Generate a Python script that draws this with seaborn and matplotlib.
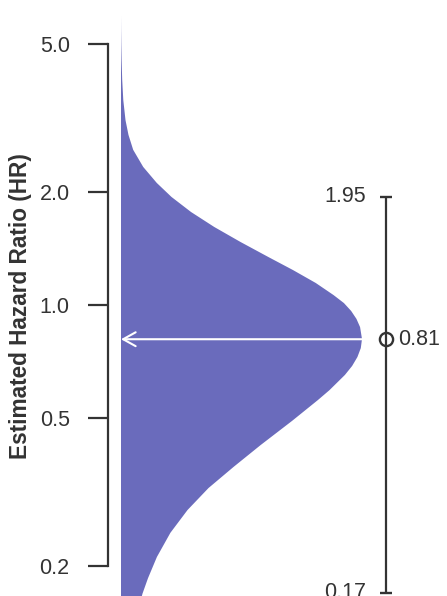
import matplotlib
matplotlib.use("Agg")
import matplotlib.pyplot as plt
from matplotlib.ticker import NullLocator
import seaborn as sns
import numpy as np

# ---- data ----
hr_grid = [5.96, 5.44, 4.96, 4.52, 4.00, 3.53, 3.12, 2.85, 2.60, 2.34, 2.12,
           1.945, 1.773, 1.617, 1.474, 1.344, 1.240, 1.145, 1.063, 1.012,
           0.964, 0.918, 0.873, 0.811, 0.767, 0.726, 0.687, 0.650, 0.592,
           0.557, 0.490, 0.422, 0.369, 0.324, 0.283, 0.246, 0.212, 0.186,
           0.169, 0.140]
density = [0.0, 0.0004, 0.0012, 0.0025, 0.005, 0.0095, 0.0187, 0.031, 0.0505,
           0.0921, 0.1485, 0.2095, 0.2905, 0.3867, 0.4959, 0.6112, 0.7137,
           0.8083, 0.882, 0.925, 0.955, 0.977, 0.992, 1.0, 0.995, 0.981,
           0.959, 0.929, 0.865, 0.817, 0.710, 0.579, 0.467, 0.363, 0.276,
           0.205, 0.149, 0.112, 0.089, 0.056]
hr_estimate = 0.81
ci_lower = 0.17
ci_upper = 1.95
ytick_values = [0.2, 0.5, 1.0, 2.0, 5.0]
ytick_labels = ["0.2", "0.5", "1.0", "2.0", "5.0"]
y_label = "Estimated Hazard Ratio (HR)"

# ---- style ----
sns.set_theme(style="ticks")
plt.rcParams["font.family"] = ["Liberation Sans", "DejaVu Sans"]
text_color = "#333333"
fill_color = "#6a6bbc"

W, H, DPI = 447, 596, 100
fig = plt.figure(figsize=(W / DPI, H / DPI), dpi=DPI)

ylim = (0.14, 6.0)
px_per_dec = 374.0
y_one = 305.0  # pixel row of HR = 1.0
top_px = y_one - px_per_dec * np.log10(ylim[1])
bot_px = y_one - px_per_dec * np.log10(ylim[0])
ax_left_px = 121.0
ax = fig.add_axes([ax_left_px / W, (H - bot_px) / H,
                   (W - ax_left_px) / W, (bot_px - top_px) / H])

ax.set_yscale("log")
ax.set_ylim(*ylim)
max_w_px = 241.0
ax.set_xlim(0, (W - ax_left_px) / max_w_px)

# half violin (density)
ax.fill_betweenx(hr_grid, 0, density, color=fill_color, lw=0)

# white arrow at the estimate
ax.annotate("", xy=(0.0, hr_estimate), xytext=(1.0, hr_estimate),
            arrowprops=dict(arrowstyle="->,head_length=0.45,head_width=0.25",
                            color="white", lw=1.5, shrinkA=0, shrinkB=0,
                            mutation_scale=20))

# CI error bar on the right
x_eb = (385.5 - ax_left_px) / max_w_px
ax.errorbar([x_eb], [hr_estimate],
            yerr=[[hr_estimate - ci_lower], [ci_upper - hr_estimate]],
            fmt="o", mfc="none", mec=text_color, ms=9.5, mew=1.7,
            ecolor=text_color, elinewidth=1.6, capsize=4.3, capthick=1.6,
            clip_on=False, zorder=5)
fs = 15.5
ax.annotate(f"{ci_upper:.2f}", xy=(x_eb, ci_upper), xytext=(-14, 0),
            textcoords="offset points", ha="right", va="center",
            fontsize=fs, color=text_color, annotation_clip=False)
ax.annotate(f"{ci_lower:.2f}", xy=(x_eb, ci_lower), xytext=(-14, 0),
            textcoords="offset points", ha="right", va="center",
            fontsize=fs, color=text_color, annotation_clip=False)
ax.annotate(f"{hr_estimate:.2f}", xy=(x_eb, hr_estimate), xytext=(9, 0),
            textcoords="offset points", ha="left", va="center",
            fontsize=fs, color=text_color, annotation_clip=False)

# axes styling
ax.set_yticks(ytick_values)
ax.set_yticklabels(ytick_labels)
ax.yaxis.set_minor_locator(NullLocator())
ax.set_xticks([])
sns.despine(ax=ax, bottom=True, offset=9, trim=True)
ax.spines["left"].set_bounds(ytick_values[0], ytick_values[-1])
ax.spines["left"].set_color(text_color)
ax.spines["left"].set_linewidth(1.6)
ax.tick_params(axis="y", which="major", length=14.4, width=1.6,
               color=text_color, labelcolor=text_color, labelsize=fs, pad=13.5)
ax.patch.set_alpha(0)

ax.set_ylabel(y_label, fontsize=16.3, fontweight="bold", color=text_color)
ax.yaxis.label.set_va("center")
lab_x_px = 21.0
lab_y_px = 306.0
ax.yaxis.set_label_coords((lab_x_px - ax_left_px) / (W - ax_left_px),
                          (bot_px - lab_y_px) / (bot_px - top_px))

fig.savefig("out.png", dpi=DPI)
